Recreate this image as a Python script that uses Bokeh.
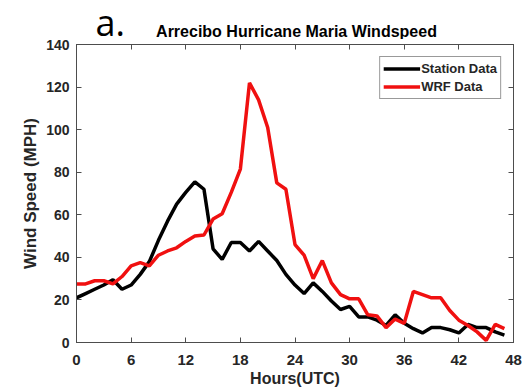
from bokeh.plotting import figure
from bokeh.models import Range1d, FixedTicker, LinearAxis, Label
from bokeh.layouts import column
from bokeh.embed import file_html
from bokeh.resources import INLINE

hours = list(range(48))
station = [21, 23, 25, 27, 29.5, 25, 27, 32, 38, 48, 57, 65, 70.5, 75.5, 72, 44,
           39, 47, 47, 43, 47.5, 43, 38.5, 32, 27, 23, 28, 24, 19.5, 15.5, 17, 12,
           12, 10.5, 8, 13, 9, 6.5, 4.5, 7, 7, 6, 4.5, 8.5, 7, 7, 5, 3.5]
wrf = [27.5, 27.5, 29, 29, 27.5, 31, 36, 37.5, 36, 41, 43, 44.5, 47.5, 50, 50.5, 58,
       60.5, 70.5, 81.5, 122, 114, 101, 75, 72, 46, 41, 30, 38.5, 28, 22.5, 20.5, 20.5,
       13, 12.5, 7, 11, 9, 24, 22.5, 21, 21, 15, 10.5, 8, 5, 1, 8.5, 6.5]
x_ticks = [0, 6, 12, 18, 24, 30, 36, 42, 48]
y_ticks = [0, 20, 40, 60, 80, 100, 120, 140]
title_text = "Arrecibo Hurricane Maria Windspeed"
panel_tag = "a."
x_title = "Hours(UTC)"
y_title = "Wind Speed (MPH)"

FONT = "Liberation Sans"
AX = "#4d4d4d"
TXT = "#262626"
FRAME_LEFT = 76

# ---- header strip holding the panel tag and the title ----
HEAD_H = 39
head = figure(width=523, height=HEAD_H, output_backend="svg", toolbar_location=None,
              x_range=Range1d(0, 1), y_range=Range1d(0, 1),
              min_border=0, x_axis_location=None, y_axis_location=None)
head.title.visible = False
head.xgrid.visible = False
head.ygrid.visible = False
head.outline_line_color = None
head.background_fill_color = "white"
head.border_fill_color = "white"
head.add_layout(Label(x=95 - FRAME_LEFT, y=HEAD_H - 22, x_units="screen", y_units="screen",
                      text=panel_tag, text_font="Open Sans", text_font_size="36px",
                      text_color="black", text_align="left", text_baseline="middle"))
head.add_layout(Label(x=296 - FRAME_LEFT, y=HEAD_H - 31, x_units="screen", y_units="screen",
                      text=title_text, text_font=FONT, text_font_style="bold",
                      text_font_size="16px", text_color="black",
                      text_align="center", text_baseline="middle"))

# ---- main chart ----
p = figure(width=523, height=392 - HEAD_H, output_backend="svg", toolbar_location=None,
           x_range=Range1d(0, 48), y_range=Range1d(0, 140),
           min_border_left=FRAME_LEFT, min_border_right=10,
           min_border_top=44 - HEAD_H, min_border_bottom=50,
           x_axis_location=None, y_axis_location=None)
p.title.visible = False
p.background_fill_color = "white"
p.border_fill_color = "white"
p.outline_line_color = AX
p.outline_line_width = 1
p.xgrid.visible = False
p.ygrid.visible = False


def mk_axis(ticks, labels=True):
    ax = LinearAxis(ticker=FixedTicker(ticks=ticks))
    ax.axis_line_color = AX
    ax.major_tick_line_color = AX
    ax.major_tick_in = 5
    ax.major_tick_out = 0
    ax.minor_tick_line_color = None
    ax.major_label_text_font = FONT
    ax.major_label_text_font_style = "bold"
    ax.major_label_text_color = TXT
    ax.axis_label_text_font = FONT
    ax.axis_label_text_font_style = "bold"
    ax.axis_label_text_color = TXT
    if not labels:
        ax.major_label_text_font_size = "0px"
        ax.major_label_standoff = 0
    return ax


xb = mk_axis(x_ticks)
xb.major_label_text_font_size = "15px"
xb.major_label_standoff = 12
xb.axis_label = x_title
xb.axis_label_text_font_size = "16px"
xb.axis_label_standoff = 2
p.add_layout(xb, "below")

yl = mk_axis(y_ticks)
yl.major_label_text_font_size = "14px"
yl.major_label_standoff = 7
yl.axis_label = y_title
yl.axis_label_text_font_size = "17px"
yl.axis_label_standoff = 3
p.add_layout(yl, "left")

p.add_layout(mk_axis(x_ticks, labels=False), "above")
p.add_layout(mk_axis(y_ticks, labels=False), "right")

p.line(hours, station, line_color="black", line_width=3.5, legend_label="Station Data")
p.line(hours, wrf, line_color="#f01010", line_width=3.5, legend_label="WRF Data")

lg = p.legend[0]
lg.location = "top_right"
lg.margin = 12
lg.padding = 3
lg.spacing = 1
lg.glyph_width = 37
lg.glyph_height = 17
lg.label_height = 17
lg.label_standoff = 1
lg.label_text_font = FONT
lg.label_text_font_style = "bold"
lg.label_text_font_size = "13px"
lg.label_text_color = TXT
lg.border_line_color = "#333333"
lg.border_line_width = 1
lg.background_fill_color = "white"

layout = column(head, p, spacing=0)
open("out.html", "w").write(file_html(layout, INLINE))
